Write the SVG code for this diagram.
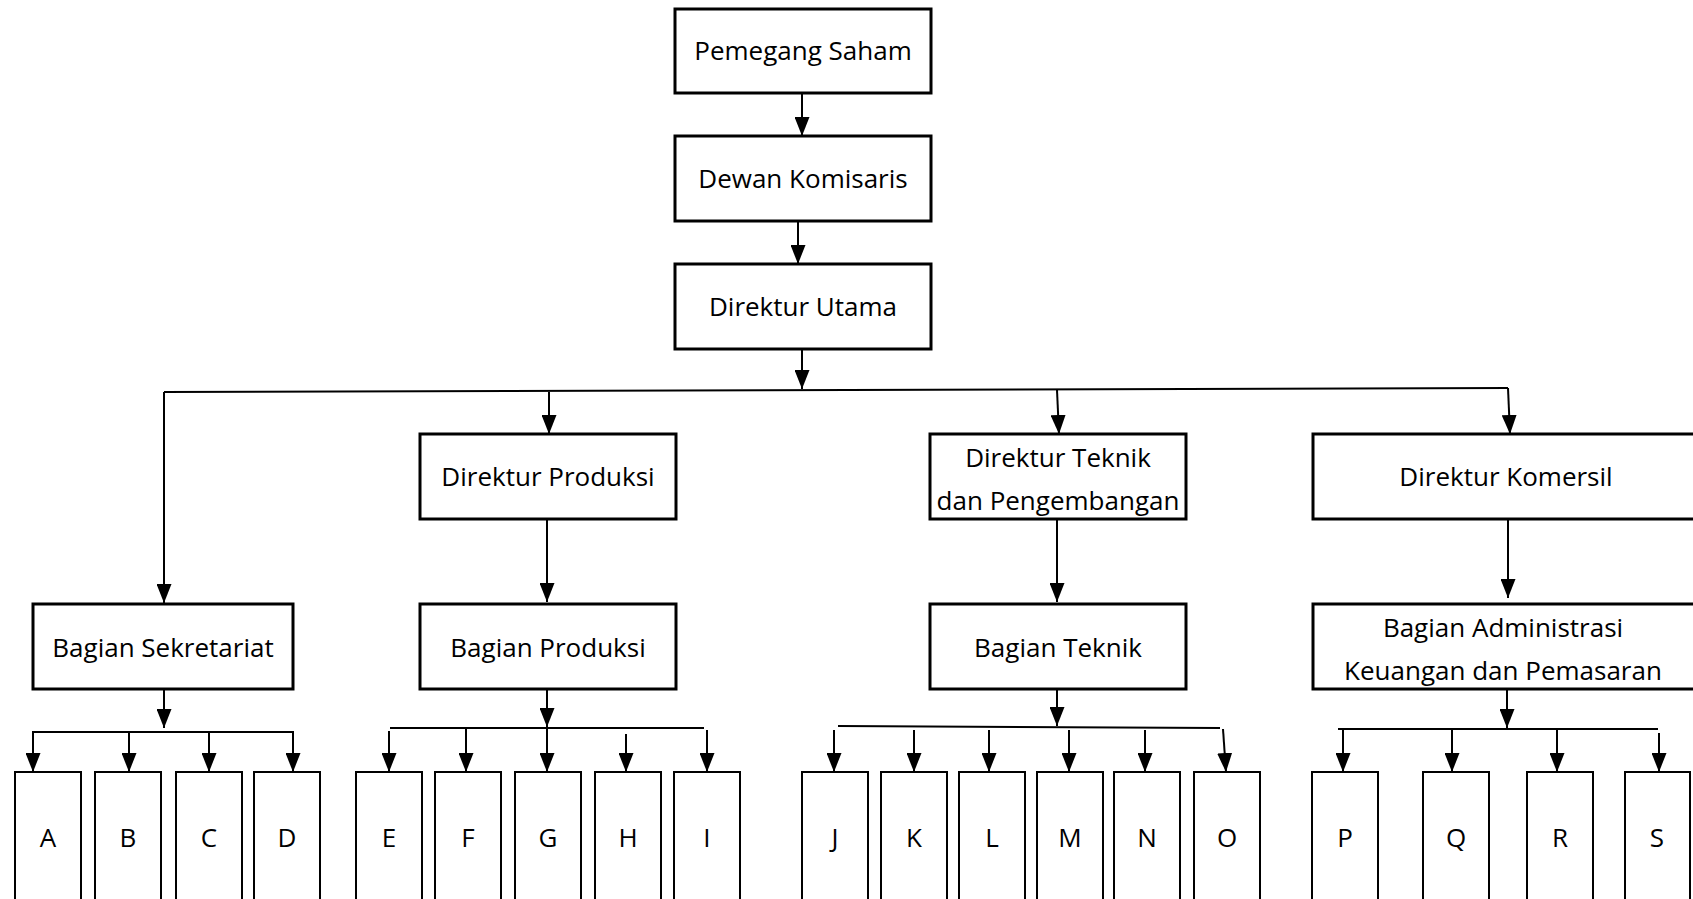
<svg xmlns="http://www.w3.org/2000/svg" width="1693" height="899" viewBox="0 0 1693 899">
<style>
.box{fill:#fff;stroke:#000;stroke-width:3}
.sm{fill:#fff;stroke:#000;stroke-width:2}
.t{font-family:"Open Sans","Noto Sans","Liberation Sans",sans-serif;font-size:26px;fill:#000;text-anchor:middle}
.c{fill:none;stroke:#000;stroke-width:2}
.a{fill:none;stroke:#000;stroke-width:2;marker-end:url(#ah)}
</style>
<defs>
<marker id="ah" markerUnits="userSpaceOnUse" markerWidth="19" markerHeight="15" refX="19" refY="7.5" orient="auto">
<path d="M0,0 L19,7.5 L0,15 Z" fill="#000"/>
</marker>
</defs>
<rect width="1693" height="899" fill="#fff"/>
<g id="connectors">
<path class="a" d="M802,94 L802,136"/>
<path class="a" d="M798,222 L798,264"/>
<path class="a" d="M802,350 L802,389"/>
<path class="c" d="M164,392 L1508,388"/>
<path class="a" d="M164,392 L164,603"/>
<path class="a" d="M549,392 L549,434"/>
<path class="a" d="M1057,390 L1059,434"/>
<path class="a" d="M1508,388 L1510,434"/>
<path class="a" d="M547,520 L547,602"/>
<path class="a" d="M1057,520 L1057,602"/>
<path class="a" d="M1508,517 L1508,598"/>
<path class="a" d="M164,690 L164,728"/>
<path class="c" d="M33,732 L293,732"/>
<path class="a" d="M33,731 L33,772"/>
<path class="a" d="M129,731 L129,772"/>
<path class="a" d="M209,731 L209,772"/>
<path class="a" d="M293,731 L293,772"/>
<path class="a" d="M547,690 L547,727"/>
<path class="c" d="M390,728 L704,728"/>
<path class="a" d="M389,731 L389,772"/>
<path class="a" d="M466,729 L466,772"/>
<path class="a" d="M547,728 L547,772"/>
<path class="a" d="M626,734 L626,772"/>
<path class="a" d="M707,730 L707,772"/>
<path class="a" d="M1057,690 L1057,726"/>
<path class="c" d="M838,726 L1220,728"/>
<path class="a" d="M834,730 L834,772"/>
<path class="a" d="M914,730 L914,772"/>
<path class="a" d="M989,730 L989,772"/>
<path class="a" d="M1069,730 L1069,772"/>
<path class="a" d="M1145,730 L1145,772"/>
<path class="a" d="M1223,729 L1226,772"/>
<path class="a" d="M1507,690 L1507,728"/>
<path class="c" d="M1338,729 L1658,729"/>
<path class="a" d="M1343,730 L1343,772"/>
<path class="a" d="M1452,730 L1452,772"/>
<path class="a" d="M1557,730 L1557,772"/>
<path class="a" d="M1659,733 L1659,772"/>
</g>
<g id="pemegang-saham"><rect class="box" x="675" y="9" width="256" height="84"/><text class="t" x="803" y="60">Pemegang Saham</text></g>
<g id="dewan-komisaris"><rect class="box" x="675" y="136" width="256" height="85"/><text class="t" x="803" y="188">Dewan Komisaris</text></g>
<g id="direktur-utama"><rect class="box" x="675" y="264" width="256" height="85"/><text class="t" x="803" y="316">Direktur Utama</text></g>
<g id="direktur-produksi"><rect class="box" x="420" y="434" width="256" height="85"/><text class="t" x="548" y="486">Direktur Produksi</text></g>
<g id="direktur-teknik"><rect class="box" x="930" y="434" width="256" height="85"/><text class="t" x="1058" y="467">Direktur Teknik</text><text class="t" x="1058" y="510">dan Pengembangan</text></g>
<g id="direktur-komersil"><rect class="box" x="1313" y="434" width="400" height="85"/><text class="t" x="1506" y="486">Direktur Komersil</text></g>
<g id="bagian-sekretariat"><rect class="box" x="33" y="604" width="260" height="85"/><text class="t" x="163" y="657">Bagian Sekretariat</text></g>
<g id="bagian-produksi"><rect class="box" x="420" y="604" width="256" height="85"/><text class="t" x="548" y="657">Bagian Produksi</text></g>
<g id="bagian-teknik"><rect class="box" x="930" y="604" width="256" height="85"/><text class="t" x="1058" y="657">Bagian Teknik</text></g>
<g id="bagian-administrasi"><rect class="box" x="1313" y="604" width="400" height="85"/><text class="t" x="1503" y="637">Bagian Administrasi</text><text class="t" x="1503" y="680">Keuangan dan Pemasaran</text></g>
<g id="A"><rect class="sm" x="15" y="772" width="66" height="140"/><text class="t" x="48" y="847">A</text></g>
<g id="B"><rect class="sm" x="95" y="772" width="66" height="140"/><text class="t" x="128" y="847">B</text></g>
<g id="C"><rect class="sm" x="176" y="772" width="66" height="140"/><text class="t" x="209" y="847">C</text></g>
<g id="D"><rect class="sm" x="254" y="772" width="66" height="140"/><text class="t" x="287" y="847">D</text></g>
<g id="E"><rect class="sm" x="356" y="772" width="66" height="140"/><text class="t" x="389" y="847">E</text></g>
<g id="F"><rect class="sm" x="435" y="772" width="66" height="140"/><text class="t" x="468" y="847">F</text></g>
<g id="G"><rect class="sm" x="515" y="772" width="66" height="140"/><text class="t" x="548" y="847">G</text></g>
<g id="H"><rect class="sm" x="595" y="772" width="66" height="140"/><text class="t" x="628" y="847">H</text></g>
<g id="I"><rect class="sm" x="674" y="772" width="66" height="140"/><text class="t" x="707" y="847">I</text></g>
<g id="J"><rect class="sm" x="802" y="772" width="66" height="140"/><text class="t" x="835" y="847">J</text></g>
<g id="K"><rect class="sm" x="881" y="772" width="66" height="140"/><text class="t" x="914" y="847">K</text></g>
<g id="L"><rect class="sm" x="959" y="772" width="66" height="140"/><text class="t" x="992" y="847">L</text></g>
<g id="M"><rect class="sm" x="1037" y="772" width="66" height="140"/><text class="t" x="1070" y="847">M</text></g>
<g id="N"><rect class="sm" x="1114" y="772" width="66" height="140"/><text class="t" x="1147" y="847">N</text></g>
<g id="O"><rect class="sm" x="1194" y="772" width="66" height="140"/><text class="t" x="1227" y="847">O</text></g>
<g id="P"><rect class="sm" x="1312" y="772" width="66" height="140"/><text class="t" x="1345" y="847">P</text></g>
<g id="Q"><rect class="sm" x="1423" y="772" width="66" height="140"/><text class="t" x="1456" y="847">Q</text></g>
<g id="R"><rect class="sm" x="1527" y="772" width="66" height="140"/><text class="t" x="1560" y="847">R</text></g>
<g id="S"><rect class="sm" x="1625" y="772" width="65" height="140"/><text class="t" x="1657" y="847">S</text></g>
</svg>
